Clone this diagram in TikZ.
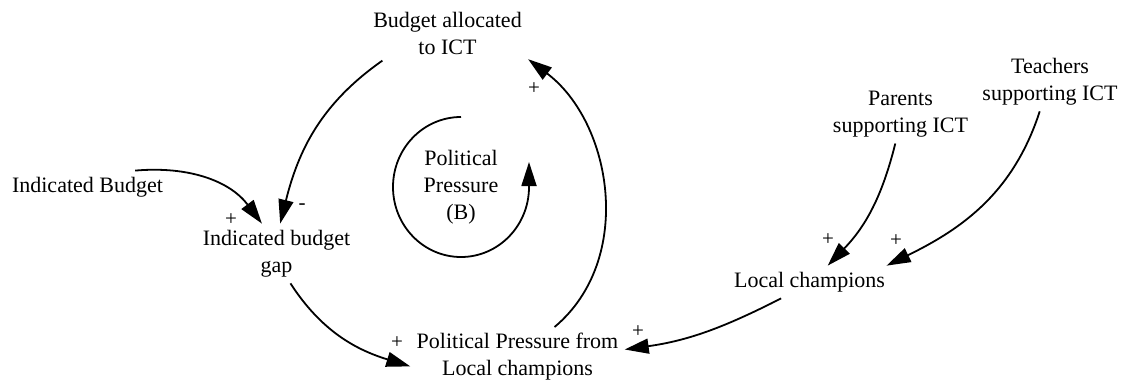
\documentclass[tikz,border=0pt]{standalone}
\usepackage{fontspec}
\setmainfont{Liberation Serif}
\usetikzlibrary{arrows.meta}

\begin{document}
\begin{tikzpicture}[
    x=0.5pt, y=0.5pt,
    var/.style={align=center, inner sep=3pt, font=\fontsize{11}{13.5}\selectfont},
    sign/.style={inner sep=0pt, font=\fontsize{10.5}{12}\selectfont},
    link/.style={-{Triangle[length=12pt, width=7.5pt]}, line width=0.9pt}
]
\useasboundingbox (0,0) rectangle (1122,-385);

% Variables
\node[var] (alloc) at (447.5,-33) {Budget allocated\\to ICT};
\node[var] (indb) at (87.5,-187) {Indicated Budget};
\node[var] (gap) at (276.5,-253.5) {Indicated budget\\gap};
\node[var] (ppl) at (517.5,-357) {Political Pressure from\\Local champions};
\node[var] (lc) at (809.5,-282) {Local champions};
\node[var] (parents) at (900.5,-114) {Parents\\supporting ICT};
\node[var] (teachers) at (1050,-81.5) {Teachers\\supporting ICT};
\node[var] (loop) at (461,-187) {Political\\Pressure\\(B)};

% Links
\draw[link] (alloc.203) to[out=215, in=76] (gap.83);
\draw[link] (indb.19) to[out=5, in=127] (gap.116);
\draw[link] (gap.295) to[out=-57, in=163] (ppl.185);
\draw[link] (ppl.39) to[out=40, in=-37] (alloc.342);
\draw[link] (parents.260) to[out=256, in=46] (lc.42);
\draw[link] (teachers.251) to[out=252, in=26] (lc.12);
\draw[link] (lc.210) to[out=207, in=8] (ppl.4);

% Balancing loop
\draw[link] ([yshift=35pt]loop.center) arc[start angle=90, end angle=360, x radius=34pt, y radius=35pt] -- ++(0,25);

% Polarities
\node[sign] (s-alloc) at (534,-89) {+};
\node[sign] (s-gap-alloc) at (302,-207) {-};
\node[sign] (s-gap-indb) at (231,-220) {+};
\node[sign] (s-ppl-gap) at (397,-343) {+};
\node[sign] (s-ppl-lc) at (638,-332) {+};
\node[sign] (s-lc-parents) at (828,-240) {+};
\node[sign] (s-lc-teachers) at (896,-241) {+};

\end{tikzpicture}
\end{document}
